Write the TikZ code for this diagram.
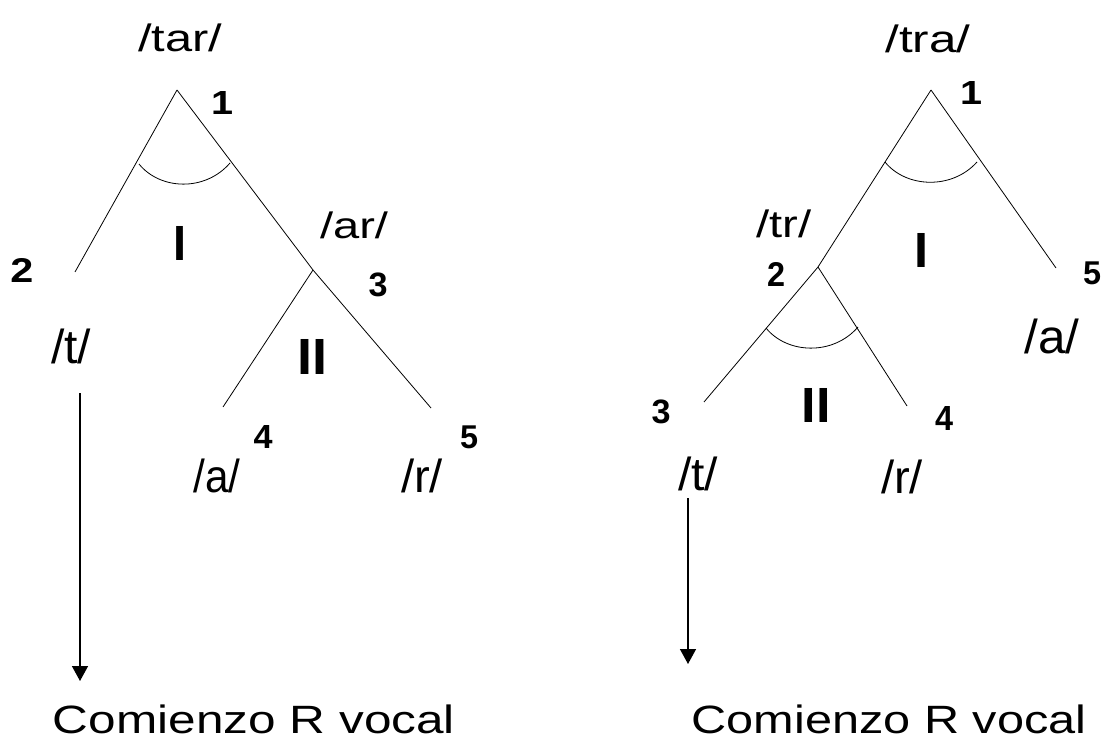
\documentclass[tikz,border=0pt]{standalone}
\usepackage{fontspec}
\usepackage{graphicx}
\setmainfont{Liberation Sans}
\usetikzlibrary{arrows.meta}
\newcommand{\fit}[3]{\resizebox*{#1pt}{#2pt}{#3}}
\begin{document}
\begin{tikzpicture}[x=1pt,y=-1pt,
  lbl/.style={inner sep=0pt, font=\fontsize{40}{40}\selectfont},
  num/.style={inner sep=0pt, font=\fontsize{30}{30}\selectfont\bfseries},
  rom/.style={inner sep=0pt, font=\fontsize{46}{46}\selectfont\bfseries},
  capt/.style={inner sep=0pt, font=\fontsize{40}{40}\selectfont},
  edge/.style={line width=0.8pt},
  arcline/.style={line width=0.8pt},
  arr/.style={line width=1.5pt, -{Triangle[length=15pt,width=16pt]}}]
\useasboundingbox (0,0) rectangle (1106,746);

% ---------------- left tree ----------------
\coordinate (A1) at (177,90);
\coordinate (A2) at (75,272);
\coordinate (A3) at (313,270);
\coordinate (A4) at (223,407);
\coordinate (A5) at (431,408);
\draw[edge] (A1) -- (A2);
\draw[edge] (A1) -- (A3) -- (A5);
\draw[edge] (A3) -- (A4);
\coordinate (AarcL) at (139,164);
\coordinate (AarcR) at (230,163);
\draw[arcline] (AarcL) .. controls (160,190) and (205,192) .. (AarcR);

\node[lbl] (tar) at (180,38) {\fit{84}{28}{/tar/}};
\node[num] (an1) at (222,103) {\fit{22}{23}{1}};
\node[num] (an2) at (22,271) {\fit{23}{24}{2}};
\node[lbl] (ar) at (354,225) {\fit{68}{27}{/ar/}};
\node[num] (an3) at (378,285) {\fit{19}{24}{3}};
\node[rom] (aI) at (180,243) {\fit{13}{34}{I}};
\node[lbl] (at) at (71,346) {\fit{40}{35}{/t/}};
\node[rom] (aII) at (312,357) {\fit{30}{35}{II}};
\node[num] (an4) at (263,437) {\fit{19}{23}{4}};
\node[num] (an5) at (469,437) {\fit{18}{23}{5}};
\node[lbl] (aa) at (217,476) {\fit{47}{34}{/a/}};
\node[lbl] (ar2) at (422,476) {\fit{42}{34}{/r/}};

\coordinate (AarrTop) at (80,393);
\coordinate (AarrTip) at (80,681);
\draw[arr] (AarrTop) -- (AarrTip);
\node[capt] (acap) at (254,719) {\fit{402}{29}{Comienzo R vocal}};

% ---------------- right tree ----------------
\coordinate (B1) at (931,90);
\coordinate (B2) at (818,267);
\coordinate (B3) at (704,402);
\coordinate (B4) at (907,406);
\coordinate (B5) at (1056,268);
\draw[edge] (B1) -- (B2) -- (B3);
\draw[edge] (B1) -- (B5);
\draw[edge] (B2) -- (B4);
\coordinate (BarcL) at (885,162);
\coordinate (BarcR) at (977,162);
\draw[arcline] (BarcL) .. controls (906,188) and (952,190) .. (BarcR);
\coordinate (CarcL) at (766,328);
\coordinate (CarcR) at (858,327);
\draw[arcline] (CarcL) .. controls (787,354) and (833,356) .. (CarcR);

\node[lbl] (tra) at (928,39) {\fit{85}{28}{/tra/}};
\node[num] (bn1) at (971,93) {\fit{22}{23}{1}};
\node[lbl] (tr) at (784,224) {\fit{55}{28}{/tr/}};
\node[num] (bn2) at (776,274) {\fit{18}{24}{2}};
\node[rom] (bI) at (921,250) {\fit{14}{34}{I}};
\node[num] (bn5) at (1092,273) {\fit{18}{23}{5}};
\node[lbl] (ba) at (1052,336) {\fit{55}{35}{/a/}};
\node[num] (bn3) at (661,412) {\fit{19}{24}{3}};
\node[rom] (bII) at (816,405) {\fit{29}{34}{II}};
\node[num] (bn4) at (944,418) {\fit{18}{24}{4}};
\node[lbl] (bt) at (698,474) {\fit{40}{34}{/t/}};
\node[lbl] (br) at (902,477) {\fit{42}{34}{/r/}};

\coordinate (BarrTop) at (688,498);
\coordinate (BarrTip) at (688,664);
\draw[arr] (BarrTop) -- (BarrTip);
\node[capt] (bcap) at (889,719) {\fit{395}{29}{Comienzo R vocal}};
\end{tikzpicture}
\end{document}
